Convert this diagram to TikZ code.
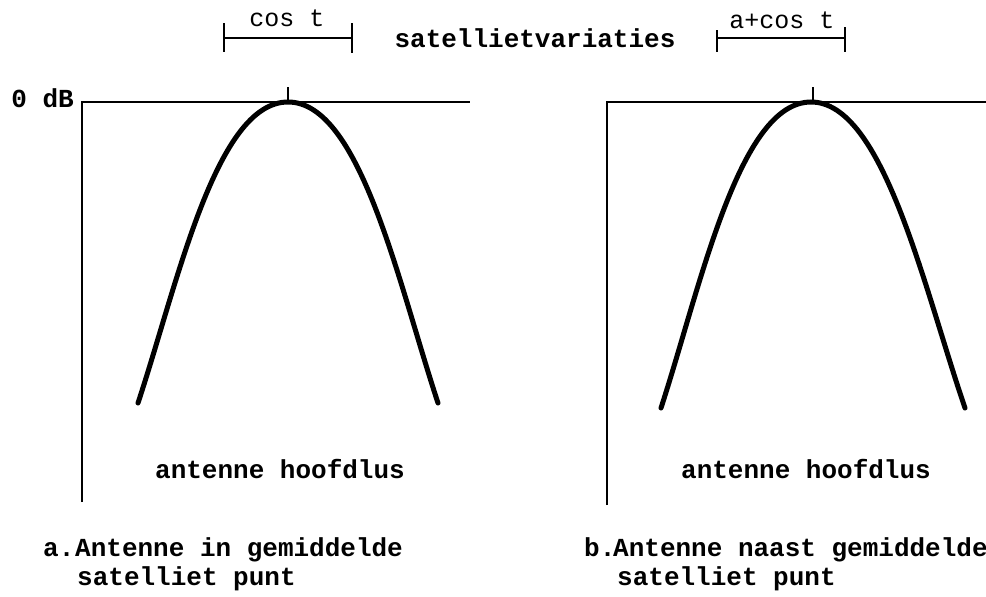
\documentclass[tikz,border=0pt]{standalone}
\usepackage{fontspec}
\setmonofont{Liberation Mono}
\newfontfamily\typefont{Liberation Mono}
\begin{document}
\begin{tikzpicture}[x=1pt,y=-1pt,
  lbl/.style={inner sep=0pt,font=\typefont\bfseries\fontsize{26}{28}\selectfont},
  lblthin/.style={inner sep=0pt,font=\typefont\fontsize{25}{28}\selectfont},
  axis/.style={line width=1.8pt},
  bracket/.style={line width=1.5pt},
  beam/.style={line width=5pt,line cap=round}]
\useasboundingbox (0,0) rectangle (986,597);
% ---------- top brackets ----------
\coordinate (c1l) at (224,38); \coordinate (c1r) at (352,38);
\draw[bracket] (c1l) -- (c1r);
\draw[bracket] (224,23) -- (224,52);
\draw[bracket] (352,23) -- (352,53);
\node[lblthin,anchor=base] (cost) at (287,27) {cos t};
\coordinate (c2l) at (717,38); \coordinate (c2r) at (845,38);
\draw[bracket] (c2l) -- (c2r);
\draw[bracket] (717,30) -- (717,52);
\draw[bracket] (845,27) -- (845,52);
\node[lblthin,anchor=base] (acost) at (782,28) {a+cos t};
\node[lbl,anchor=base] (sv) at (535,47) {satellietvariaties};
% ---------- left panel ----------
\coordinate (aO) at (82,102);
\coordinate (aB) at (82,502);
\coordinate (aR) at (470,102);
\draw[axis] (aB) -- (aO) -- (aR);
\coordinate (aP) at (288,102);
\coordinate (aT) at (288,87);
\draw[bracket] (aP) -- (aT);
\node[lbl,anchor=base east] (zero) at (74,107) {0 dB};
\draw[beam] (138,403) .. controls (178,282) and (216,102) .. (288,102)
                      .. controls (360,102) and (398,282) .. (438,403);
\node[lbl,anchor=base] (hla) at (280,478) {antenne hoofdlus};
\node[lbl,anchor=base west] (ca) at (43,556) {a.};
\node[lbl,anchor=base west] (ca1) at (75,556) {Antenne in gemiddelde};
\node[lbl,anchor=base west] (ca2) at (77,585) {satelliet punt};
% ---------- right panel ----------
\coordinate (bO) at (607,102);
\coordinate (bB) at (607,505);
\coordinate (bR) at (986,102);
\draw[axis] (bB) -- (bO) -- (bR);
\coordinate (bP) at (813,102);
\coordinate (bT) at (813,87);
\draw[bracket] (bP) -- (bT);
\draw[beam] (661,408) .. controls (701,285) and (739,102) .. (811,102)
                      .. controls (883,102) and (923,285) .. (965,408);
\node[lbl,anchor=base] (hlb) at (806,478) {antenne hoofdlus};
\node[lbl,anchor=base west] (cb) at (584,556) {b.};
\node[lbl,anchor=base west] (cb1) at (613,556) {Antenne naast gemiddelde};
\node[lbl,anchor=base west] (cb2) at (617,585) {satelliet punt};
\end{tikzpicture}
\end{document}
